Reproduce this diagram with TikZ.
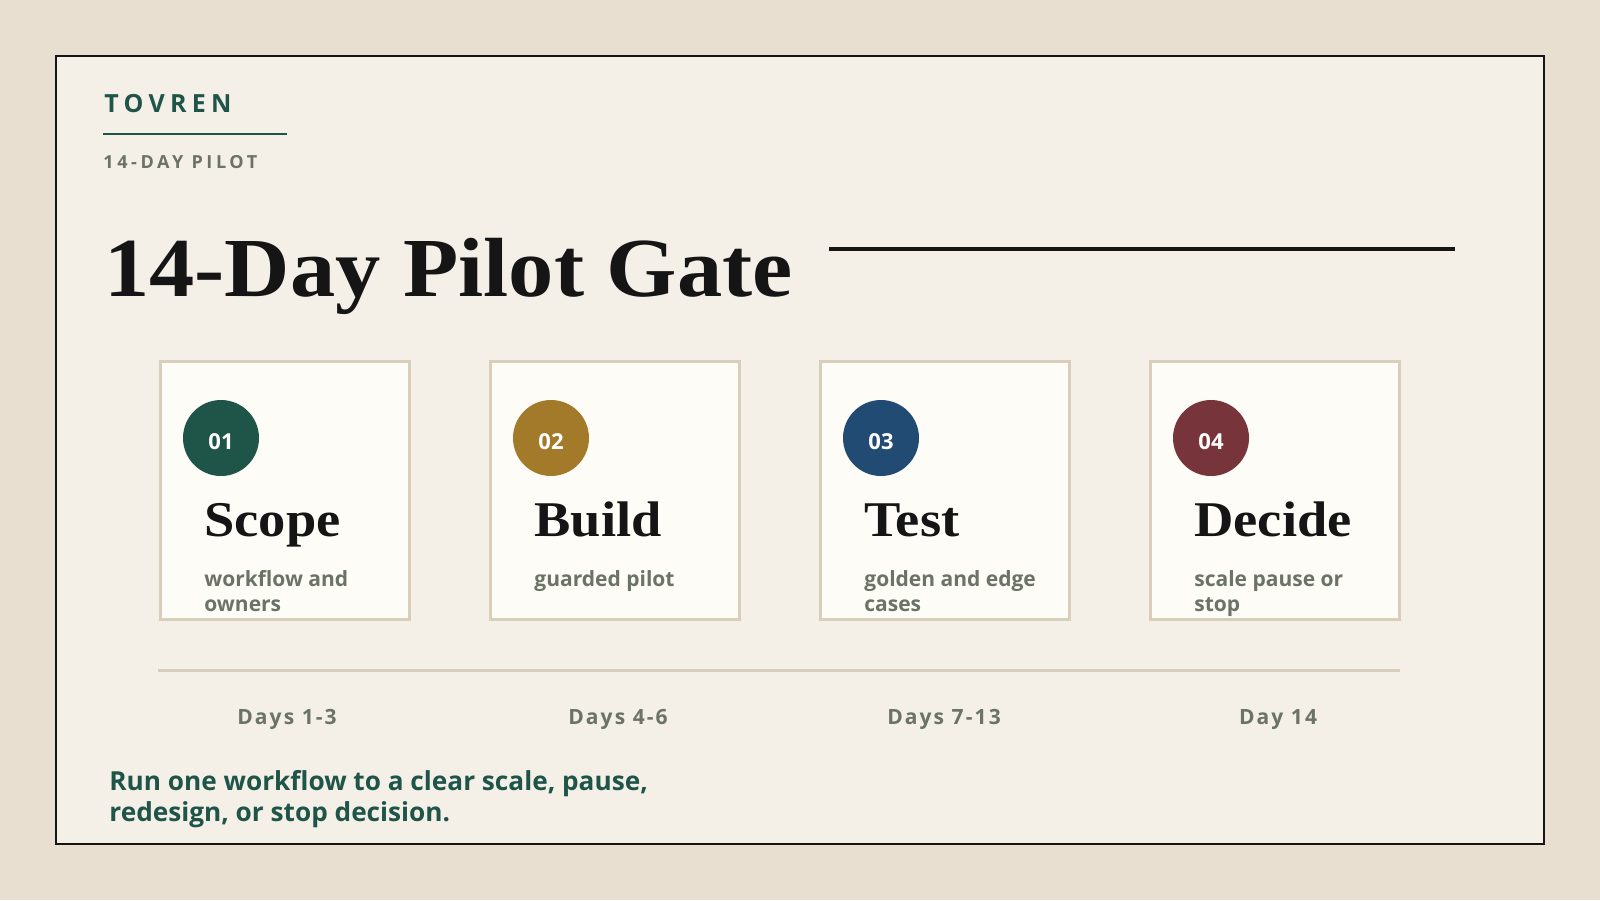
\documentclass[tikz,border=0pt]{standalone}
\usepackage{fontspec}
\setmainfont{Liberation Serif}
\newfontfamily\uisans{Open Sans}
\usetikzlibrary{positioning}
\definecolor{paper}{HTML}{E8DFD0}
\definecolor{panel}{HTML}{F4F0E8}
\definecolor{ink}{HTML}{151515}
\definecolor{pine}{HTML}{1F5449}
\definecolor{ochre}{HTML}{A27A2A}
\definecolor{navy}{HTML}{224B74}
\definecolor{wine}{HTML}{77343A}
\definecolor{slate}{HTML}{6B7266}
\definecolor{cardfill}{HTML}{FDFCF7}
\definecolor{cardline}{HTML}{D9CDBB}
\newcommand{\widen}[2]{\scalebox{#1}[1]{#2}}
\tikzset{
  card/.style={draw=cardline,line width=1.35pt,fill=cardfill,anchor=north west,minimum width=124.7pt,minimum height=129.2pt,inner sep=0pt},
  badge/.style={circle,fill=#1,minimum size=38pt,inner sep=0pt,text=white,font=\uisans\bfseries\fontsize{11}{13}\selectfont},
  badgenum/.style={inner sep=0pt,text=white,font=\uisans\bfseries\fontsize{11}{13}\selectfont},
  cardtitle/.style={anchor=base west,inner sep=0pt,text=ink,font=\bfseries\fontsize{25}{30}\selectfont},
  carddesc/.style={anchor=base west,inner sep=0pt,text=slate,align=left,font=\uisans\bfseries\fontsize{10.5}{12.5}\selectfont},
  daylabel/.style={anchor=base,inner sep=0pt,text=slate,font=\uisans\bfseries\fontsize{10.5}{12}\selectfont\addfontfeature{LetterSpace=10}},
  rule/.style={line width=#1}
}
\begin{document}
\begin{tikzpicture}[x=0.5pt,y=-0.5pt]
    \fill[paper] (0,0) rectangle (1600,900); % page
    \draw[ink,line width=1pt,fill=panel] (56,56) rectangle (1544,844); % panel frame
    \node[anchor=base west,inner sep=0pt,text=pine,font=\uisans\bfseries\fontsize{12.5}{14}\selectfont\addfontfeature{LetterSpace=21}] (brand) at (104,112) {TOVREN}; % brand
    \coordinate (brandl) at (103,134);
    \coordinate (brandr) at (287,134);
    \draw[pine,rule=1.25pt] (brandl) -- (brandr); % brand underline
    \node[anchor=base west,inner sep=0pt,text=slate,font=\uisans\bfseries\fontsize{9}{11}\selectfont\addfontfeature{LetterSpace=20}] (kicker) at (103,168) {14-DAY PILOT}; % kicker
    \node[anchor=base west,inner sep=0pt,text=ink,font=\bfseries\fontsize{42}{48}\selectfont] (title) at (104,296) {\widen{1.077}{14-Day Pilot Gate}}; % title
    \coordinate (titlel) at (829,249);
    \coordinate (titler) at (1455,249);
    \draw[ink,rule=1.75pt] (titlel) -- (titler); % title rule
    % cards
    \node[card] (scopecard) at (159,360) {};
    \node[card] (buildcard) at (489,360) {};
    \node[card] (testcard) at (819,360) {};
    \node[card] (decidecard) at (1149,360) {};
    \node[badge=pine] (scopebadge) at (221,438) {};
    \node[badge=ochre] (buildbadge) at (551,438) {};
    \node[badge=navy] (testbadge) at (881,438) {};
    \node[badge=wine] (decidebadge) at (1211,438) {};
    \node[badgenum] at ([yshift=-2pt]scopebadge) {01};
    \node[badgenum] at ([yshift=-2pt]buildbadge) {02};
    \node[badgenum] at ([yshift=-2pt]testbadge) {03};
    \node[badgenum] at ([yshift=-2pt]decidebadge) {04};
    \node[cardtitle] (scopetitle) at (204,536) {\widen{1.09}{Scope}};
    \node[cardtitle] (buildtitle) at (534,536) {\widen{1.09}{Build}};
    \node[cardtitle] (testtitle) at (864,536) {\widen{1.09}{Test}};
    \node[cardtitle] (decidetitle) at (1194,536) {\widen{1.09}{Decide}};
    \node[carddesc] (scopedesc) at (204,611) {workflow and\\owners};
    \node[carddesc] (builddesc) at (534,586) {guarded pilot};
    \node[carddesc] (testdesc) at (864,611) {golden and edge\\cases};
    \node[carddesc] (decidedesc) at (1194,611) {scale pause or\\stop};
    % timeline
    \coordinate (linel) at (158,670);
    \coordinate (liner) at (1400,670);
    \draw[cardline,rule=1.5pt] (linel) -- (liner); % separator
    \node[daylabel] (scopedays) at (287,724) {Days 1-3};
    \node[daylabel] (builddays) at (618,724) {Days 4-6};
    \node[daylabel] (testdays) at (944,724) {Days 7-13};
    \node[daylabel] (decidedays) at (1278,724) {Day 14};
    \node[anchor=base west,inner sep=0pt,text=pine,align=left,font=\uisans\bfseries\fontsize{13.1}{15.5}\selectfont] (footer) at (109,821) {Run one workflow to a clear scale, pause,\\redesign, or stop decision.}; % footer
\end{tikzpicture}
\end{document}
